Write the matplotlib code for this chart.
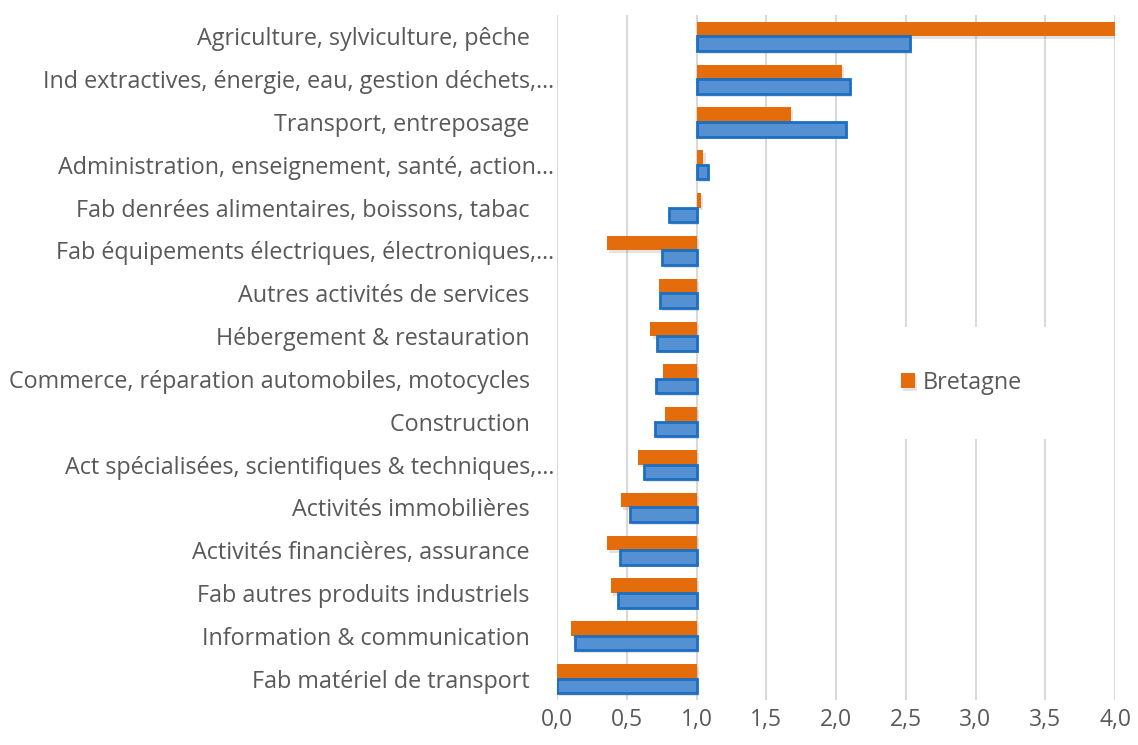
import matplotlib
matplotlib.use("Agg")
import matplotlib.pyplot as plt
import matplotlib.patheffects as pe
import numpy as np

plt.rcParams['font.family'] = ['Open Sans', 'DejaVu Sans']

categories = [
    "Agriculture, sylviculture, pêche    ",
    "Ind extractives, énergie, eau, gestion déchets,…",
    "Transport, entreposage    ",
    "Administration, enseignement, santé, action…",
    "Fab denrées alimentaires, boissons, tabac    ",
    "Fab équipements électriques, électroniques,…",
    "Autres activités de services    ",
    "Hébergement & restauration    ",
    "Commerce, réparation automobiles, motocycles    ",
    "Construction    ",
    "Act spécialisées, scientifiques & techniques,…",
    "Activités immobilières    ",
    "Activités financières, assurance    ",
    "Fab autres produits industriels    ",
    "Information & communication    ",
    "Fab matériel de transport    ",
]
bretagne = [4.10, 2.04, 1.68, 1.05, 1.035, 0.36, 0.73, 0.67, 0.76, 0.775,
            0.58, 0.46, 0.36, 0.39, 0.10, 0.0]
autre = [2.53, 2.10, 2.07, 1.08, 0.80, 0.75, 0.74, 0.72, 0.71, 0.70,
         0.625, 0.52, 0.45, 0.44, 0.13, 0.0]
xticks = [0.0, 0.5, 1.0, 1.5, 2.0, 2.5, 3.0, 3.5, 4.0]
base = 1.0

fig = plt.figure(figsize=(11.38, 7.45), dpi=100)
ax = fig.add_axes([557/1138, 1-700/745, (1115-557)/1138, (700-15)/745])

n = len(categories)
y = np.arange(n)[::-1]
h = 0.34
shadow = [pe.SimplePatchShadow(offset=(1.5, -2), shadow_rgbFace='#909090', alpha=0.25), pe.Normal()]

ob = ax.barh(y + h/2, np.array(bretagne) - base, left=base, height=h,
             color='#E46C0A', edgecolor='none', label='Bretagne', zorder=3)
bb = ax.barh(y - h/2, np.array(autre) - base, left=base, height=h,
             color='#5590D2', edgecolor='#1C6FC2', linewidth=2, zorder=3)
for p in list(ob) + list(bb):
    p.set_path_effects(shadow)

ax.set_xlim(0, 4.0)
ax.set_ylim(-0.5, n - 0.5)
ax.set_yticks(y)
ax.set_yticklabels(categories, fontsize=16.8, color='#595959')
ax.set_xticks(xticks)
ax.set_xticklabels([f"{v:.1f}".replace('.', ',') for v in xticks], fontsize=16.5, color='#595959')
ax.tick_params(axis='both', length=0)
ax.tick_params(axis='x', pad=6)
ax.tick_params(axis='y', pad=2)
for s in ax.spines.values():
    s.set_visible(False)
ax.set_axisbelow(True)
ax.grid(axis='x', color='#D9D9D9', linewidth=1.5, zorder=0)
ax.grid(axis='y', visible=False)

leg = ax.legend(handles=[ob], loc='center', bbox_to_anchor=(0.725, 0.463),
                frameon=True, fontsize=16.8, handlelength=0.6, handleheight=0.6,
                handletextpad=0.35, borderpad=1.9, borderaxespad=0)
leg.get_frame().set_facecolor('white')
leg.get_frame().set_edgecolor('none')
leg.get_frame().set_alpha(1)
for t in leg.get_texts():
    t.set_color('#595959')

fig.savefig("out.png", dpi=100)
